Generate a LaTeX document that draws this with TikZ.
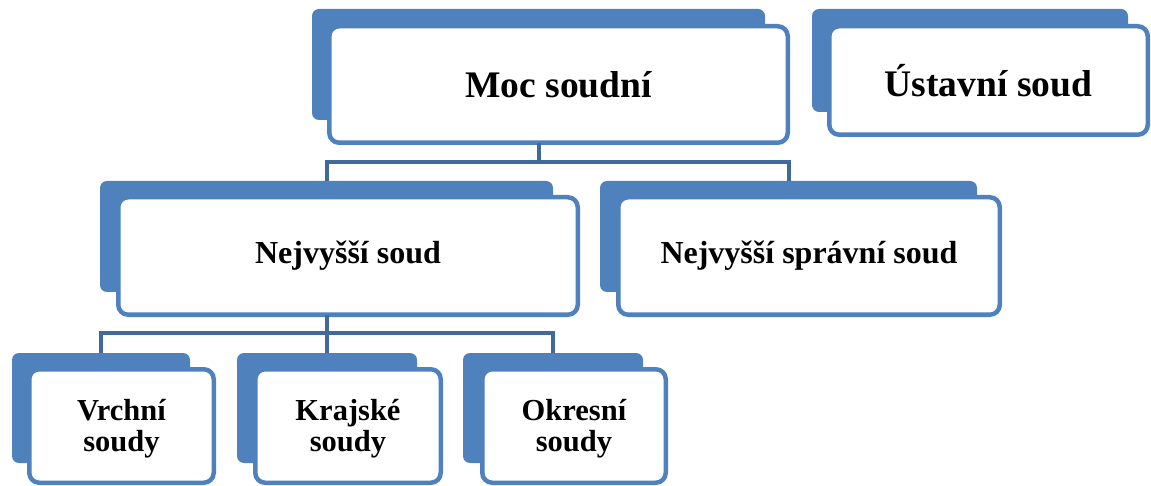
\documentclass[tikz,border=0pt]{standalone}
\usepackage{fontspec}
\setmainfont{Liberation Serif}
\definecolor{boxblue}{HTML}{4F81BD}
\definecolor{linkblue}{HTML}{41699B}
\begin{document}
\begin{tikzpicture}[x=1pt,y=-1pt,
  backbox/.style={fill=boxblue, draw=none, rounded corners=7pt, inner sep=0pt, outer sep=0pt},
  frontbox/.style={fill=white, draw=boxblue, line width=4.5pt, rounded corners=10pt, inner sep=0pt, outer sep=0pt, align=center},
  bigtext/.style={font=\fontsize{37.5}{40}\selectfont\bfseries},
  midtext/.style={font=\fontsize{32}{35}\selectfont\bfseries},
  smalltext/.style={font=\fontsize{30.5}{31}\selectfont\bfseries, align=center, inner sep=0pt},
  link/.style={draw=linkblue, line width=4pt}]
\useasboundingbox (0,0) rectangle (1151,486);

% Moc soudni
\node[backbox, minimum width=453pt, minimum height=111pt] (mocB) at (538.5,64.5) {};
\node[frontbox, bigtext, minimum width=458.5pt, minimum height=116.5pt] (mocF) at (558.5,84.5) {Moc soudní};

% Ustavni soud
\node[backbox, minimum width=316pt, minimum height=103pt] (usB) at (970,60.5) {};
\node[frontbox, bigtext, minimum width=318.5pt, minimum height=108.5pt] (usF) at (988.5,80.5) {Ústavní soud};

% Nejvyssi soud
\node[backbox, minimum width=453pt, minimum height=111pt] (nsB) at (326.5,236.5) {};
\node[frontbox, midtext, minimum width=459.5pt, minimum height=117.5pt] (nsF) at (348,256) {Nejvyšší soud};

% Nejvyssi spravni soud
\node[backbox, minimum width=377pt, minimum height=111pt] (nssB) at (788.5,236.5) {};
\node[frontbox, midtext, minimum width=381.5pt, minimum height=117.5pt] (nssF) at (809,256) {Nejvyšší správní soud};

% Children
\node[backbox, minimum width=178pt, minimum height=110pt] (vrB) at (101,408) {};
\node[frontbox, minimum width=184.5pt, minimum height=113.5pt] (vrF) at (121.5,426) {};
\node[smalltext, yshift=-3pt] (vrT) at (vrF.center) {Vrchní\\soudy};

\node[backbox, minimum width=180pt, minimum height=110pt] (krB) at (327,408) {};
\node[frontbox, minimum width=185.5pt, minimum height=113.5pt] (krF) at (348,426) {};
\node[smalltext, yshift=-3pt] (krT) at (krF.center) {Krajské\\soudy};

\node[backbox, minimum width=180pt, minimum height=110pt] (okB) at (553,408) {};
\node[frontbox, minimum width=183.5pt, minimum height=113.5pt] (okF) at (574,426) {};
\node[smalltext, yshift=-3pt] (okT) at (okF.center) {Okresní\\soudy};

% Connectors
\coordinate (j1) at (538.5,162);
\draw[link] (mocB.center |- mocF.south) -- (j1);
\draw[link] (j1) -| (nsB.north);
\draw[link] (j1) -| (nssB.north);

\coordinate (j2) at (326.5,333);
\draw[link] (nsB.center |- nsF.south) -- (j2);
\draw[link] (j2) -| (vrB.north);
\draw[link] (j2) -| (krB.north);
\draw[link] (j2) -| (okB.north);
\end{tikzpicture}
\end{document}
